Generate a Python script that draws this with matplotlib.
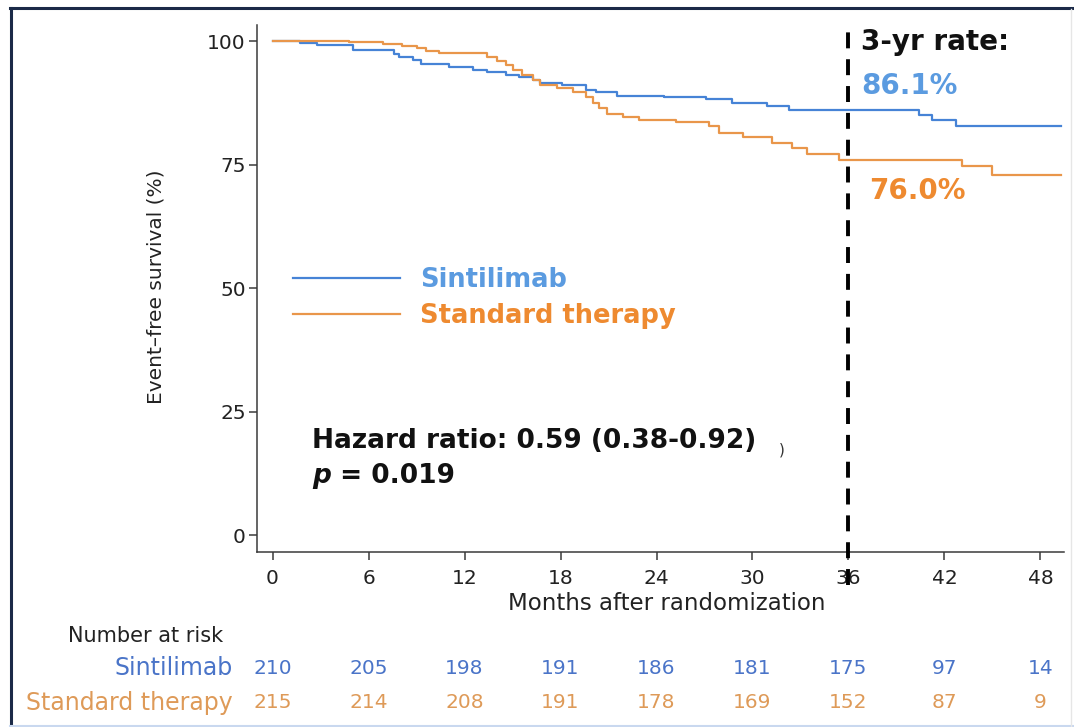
import numpy as np
import matplotlib
matplotlib.use("Agg")
import matplotlib.pyplot as plt
from matplotlib.lines import Line2D
from matplotlib.transforms import blended_transform_factory

# Kaplan-Meier steps (months, event-free survival %)
t_sint = [0, 1.7, 2.75, 5.0, 7.6, 7.9, 8.75, 9.3, 11.0, 12.5, 13.4, 14.6, 15.4, 16.3,
          16.7, 18.1, 19.6, 20.2, 21.5, 24.5, 27.1, 28.75, 30.9, 32.3, 40.4, 41.25,
          42.75, 49.3]
s_sint = [100, 99.6, 99.2, 98.2, 97.3, 96.7, 96.2, 95.3, 94.7, 94.1, 93.7, 93.1, 92.7,
          92.1, 91.6, 91.1, 90.1, 89.6, 88.9, 88.6, 88.2, 87.4, 86.8, 86.1, 85.0, 84.1,
          82.8, 82.8]

t_std = [0, 4.8, 6.9, 8.1, 9.0, 9.6, 10.4, 13.4, 14.0, 14.6, 15.0, 15.6, 16.25, 16.7,
         17.75, 18.75, 19.6, 20.0, 20.4, 20.9, 21.9, 22.9, 25.25, 27.3, 27.9, 29.4,
         31.25, 32.5, 33.4, 35.4, 43.1, 45.0, 49.3]
s_std = [100, 99.7, 99.4, 99.0, 98.5, 98.0, 97.5, 96.7, 96.0, 95.1, 94.1, 93.1, 92.1,
         91.1, 90.4, 89.7, 88.7, 87.4, 86.4, 85.2, 84.7, 84.1, 83.7, 82.7, 81.3, 80.5,
         79.3, 78.3, 77.1, 76.0, 74.7, 72.9, 72.9]

risk_months = [0, 6, 12, 18, 24, 30, 36, 42, 48]
risk_sint = [210, 205, 198, 191, 186, 181, 175, 97, 14]
risk_std = [215, 214, 208, 191, 178, 169, 152, 87, 9]

groups = ["Sintilimab", "Standard therapy"]
landmark = 36
hr_text = "Hazard ratio: 0.59 (0.38-0.92)"
p_text = "0.019"

line_blue = "#4683d6"
line_orange = "#e9964a"
txt_blue = "#5b9be0"
txt_orange = "#ee8a30"
tab_blue = "#4a74c8"
tab_orange = "#de9a58"
axis_col = "#3a3a3a"


def surv_at(t, s, month):
    i = np.searchsorted(t, month, side="right") - 1
    return s[i]


fig = plt.figure(figsize=(10.74, 7.27), dpi=100)
ax = fig.add_axes([257 / 1074, 1 - 552 / 727, (1064 - 257) / 1074, (552 - 25) / 727])

l1, = ax.step(t_sint, s_sint, where="post", color=line_blue, lw=1.6)
l2, = ax.step(t_std, s_std, where="post", color=line_orange, lw=1.6)

ax.set_xlim(-0.97, 49.47)
ax.set_ylim(-3.44, 103.24)
ax.set_xticks(risk_months)
ax.set_yticks([0, 25, 50, 75, 100])

for side in ["top", "right"]:
    ax.spines[side].set_visible(False)
for side in ["left", "bottom"]:
    ax.spines[side].set_color(axis_col)
    ax.spines[side].set_linewidth(1.1)
ax.tick_params(axis="both", colors=axis_col, labelcolor="#222222", width=1.1,
               length=6, labelsize=14.5)
ax.tick_params(axis="x", pad=6)
ax.tick_params(axis="y", pad=2)

# 3-year landmark
vl = ax.axvline(landmark, ymin=-0.063, ymax=0.987, color="black", lw=2.8,
                clip_on=False, zorder=3)
vl.set_dashes((4.1, 2.8))

fig.text(156 / 1074, 1 - 287 / 727, "Event\u2013free survival (%)", rotation=90,
         ha="center", va="center", fontsize=14.5, color="#222222")
fig.text(667 / 1074, 1 - 604 / 727, "Months after randomization",
         ha="center", va="center", fontsize=16.5, color="#222222")

# legend
leg = ax.legend([l1, l2], groups, loc="center left",
                bbox_to_anchor=(293 / 1074, 1 - 298 / 727),
                bbox_transform=fig.transFigure, frameon=False, borderpad=0,
                borderaxespad=0, handlelength=4.16, handletextpad=0.78,
                labelspacing=0.42, labelcolor=[txt_blue, txt_orange],
                prop=dict(weight="bold", size=18.5))

# hazard ratio and p value
bold = dict(fontsize=19, fontweight="bold", color="#111111")
fig.text(312 / 1074, 1 - 448 / 727, hr_text, va="baseline", **bold)
ptxt = fig.text(312 / 1074, 1 - 483 / 727, "p", va="baseline", style="italic", **bold)
ax.annotate(" = " + p_text, xy=(1, 0), xycoords=ptxt, va="bottom", ha="left", **bold)
fig.text(782 / 1074, 1 - 450 / 727, ")", ha="center", va="center", fontsize=11,
         color="#333333")

# 3-yr rates
rate_sint = surv_at(t_sint, s_sint, landmark)
rate_std = surv_at(t_std, s_std, landmark)
fig.text(861 / 1074, 1 - 50 / 727, "3-yr rate:", va="baseline", fontsize=20,
         fontweight="bold", color="#111111")
fig.text(861 / 1074, 1 - 94 / 727, f"{rate_sint:.1f}%", va="baseline", fontsize=20,
         fontweight="bold", color=txt_blue)
fig.text(869 / 1074, 1 - 199 / 727, f"{rate_std:.1f}%", va="baseline", fontsize=20,
         fontweight="bold", color=txt_orange)

# number at risk table
fig.text(68 / 1074, 1 - 636 / 727, "Number at risk", ha="left", va="center",
         fontsize=15, color="#222222")
fig.text(233 / 1074, 1 - 668 / 727, groups[0], ha="right", va="center",
         fontsize=17, color=tab_blue)
fig.text(233 / 1074, 1 - 703 / 727, groups[1], ha="right", va="center",
         fontsize=17, color=tab_orange)
trans = blended_transform_factory(ax.transData, fig.transFigure)
for m, a, b in zip(risk_months, risk_sint, risk_std):
    ax.text(m, 1 - 668 / 727, str(a), transform=trans, ha="center", va="center",
            fontsize=14.5, color=tab_blue, clip_on=False)
    ax.text(m, 1 - 703 / 727, str(b), transform=trans, ha="center", va="center",
            fontsize=14.5, color=tab_orange, clip_on=False)

# slide frame
fig.add_artist(Line2D([10 / 1074, 1], [1 - 7.5 / 727] * 2, transform=fig.transFigure,
                      color="#1b2a48", lw=2.2))
fig.add_artist(Line2D([10.5 / 1074] * 2, [0, 1 - 7.5 / 727], transform=fig.transFigure,
                      color="#1b2a48", lw=2.2))
fig.add_artist(Line2D([10 / 1074, 1], [1.5 / 727] * 2, transform=fig.transFigure,
                      color="#c9d8ef", lw=1.5))
fig.add_artist(Line2D([1071 / 1074] * 2, [0, 1 - 9 / 727], transform=fig.transFigure,
                      color="#e6e6e6", lw=1.0))

fig.savefig("out.png", dpi=100)
